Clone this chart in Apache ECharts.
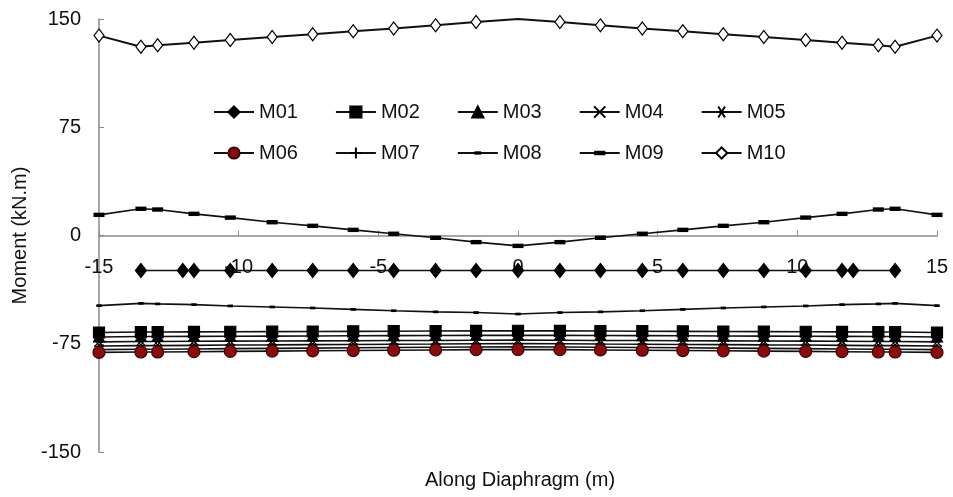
<!DOCTYPE html>
<html>
<head>
<meta charset="utf-8">
<script src="https://cdn.jsdelivr.net/npm/echarts@6/dist/echarts.min.js"></script>
<style>
  html, body { margin: 0; padding: 0; background: #fff; }
  #chart { width: 953px; height: 497px; }
</style>
</head>
<body>
<div id="chart"></div>
<script>
// x positions along the diaphragm (m)
const xMain = [-15, -13.5, -12.9, -11.6, -10.3, -8.8, -7.35, -5.9, -4.45, -2.95, -1.5, 0,
  1.5, 2.95, 4.45, 5.9, 7.35, 8.8, 10.3, 11.6, 12.9, 13.5, 15];
const xM01 = [-13.5, -12, -11.6, -10.3, -8.8, -7.35, -5.9, -4.45, -2.95, -1.5, 0,
  1.5, 2.95, 4.45, 5.9, 7.35, 8.8, 10.3, 11.6, 12, 13.5];

// moments (kN.m)
const m01 = [-24.3, -24.3, -24.3, -24.3, -24.3, -24.3, -24.3, -24.3, -24.3, -24.3, -24.3,
  -24.3, -24.3, -24.3, -24.3, -24.3, -24.3, -24.3, -24.3, -24.3, -24.3];
const m02 = [-67.2, -66.9, -66.9, -66.8, -66.7, -66.6, -66.5, -66.4, -66.3, -66.2, -66.1, -66.0,
  -66.1, -66.2, -66.3, -66.4, -66.5, -66.6, -66.7, -66.8, -66.9, -66.9, -67.2];
const m03 = [-70.3, -70.0, -70.0, -69.9, -69.8, -69.7, -69.6, -69.5, -69.4, -69.3, -69.2, -69.1,
  -69.2, -69.3, -69.4, -69.5, -69.6, -69.7, -69.8, -69.9, -70.0, -70.0, -70.3];
const m04 = [-73.7, -73.4, -73.4, -73.3, -73.2, -73.1, -73.0, -72.9, -72.8, -72.7, -72.6, -72.5,
  -72.6, -72.7, -72.8, -72.9, -73.0, -73.1, -73.2, -73.3, -73.4, -73.4, -73.7];
const m05 = [-76.6, -76.3, -76.3, -76.1, -75.9, -75.8, -75.6, -75.5, -75.3, -75.2, -75.0, -74.9,
  -75.0, -75.2, -75.3, -75.5, -75.6, -75.8, -75.9, -76.1, -76.3, -76.3, -76.6];
const m06 = [-81.0, -80.7, -80.7, -80.5, -80.3, -80.1, -79.9, -79.7, -79.5, -79.3, -79.1, -79.0,
  -79.1, -79.3, -79.5, -79.7, -79.9, -80.1, -80.3, -80.5, -80.7, -80.7, -81.0];
const m07 = [-79.1, -78.8, -78.8, -78.6, -78.4, -78.2, -78.0, -77.8, -77.6, -77.4, -77.2, -77.1,
  -77.2, -77.4, -77.6, -77.8, -78.0, -78.2, -78.4, -78.6, -78.8, -78.8, -79.1];
const m08 = [-48.6, -47.0, -47.4, -47.9, -48.8, -49.5, -50.2, -51.2, -52.1, -52.9, -53.4, -54.4,
  -53.4, -52.9, -52.1, -51.2, -50.2, -49.5, -48.8, -47.9, -47.4, -47.0, -48.6];
const m09 = [14.3, 18.5, 18.0, 15.0, 12.4, 9.2, 6.7, 3.9, 1.2, -1.6, -4.6, -7.2,
  -4.6, -1.6, 1.2, 3.9, 6.7, 9.2, 12.4, 15.0, 18.0, 18.5, 14.3];
const m10 = [138.5, 130.8, 131.8, 133.6, 135.5, 137.5, 139.4, 141.5, 143.4, 145.6, 147.9, 150.0,
  147.9, 145.6, 143.4, 141.5, 139.4, 137.5, 135.5, 133.6, 131.8, 130.8, 138.5];
// M10 has no marker drawn at mid span
const m10NoMarkerX = [0];

const legendRow1 = ['M01', 'M02', 'M03', 'M04', 'M05'];
const legendRow2 = ['M06', 'M07', 'M08', 'M09', 'M10'];

const FONT = 'Liberation Sans, Arial, sans-serif';
const W = 953, H = 497;
const GRID = { left: 99, right: 16, top: 19, bottom: 45 };
const Y_MIN = -150, Y_MAX = 150;
// x axis sits on y = 0, labels follow it
const zeroOffset = -(H - GRID.top - GRID.bottom) * (0 - Y_MIN) / (Y_MAX - Y_MIN);

// open-stroke marker shapes; the zero-length corner strokes pin the box to 10x10
const crossPath = 'path://M0,0L10,10M10,0L0,10';
const starPath = 'path://M0,5L10,5M2,1L8,9M8,1L2,9';
const plusPath = 'path://M5,0L5,10M0,5L10,5';
const dotDash = 'path://M0,0L0,0M10,10L10,10M2,3.5L8,3.5L8,6.5L2,6.5Z';
const wideDash = 'path://M0,0L0,0M10,10L10,10M0,3L10,3L10,7L0,7Z';

function pairs(xs, ys, skip) {
  return xs.map((x, i) => {
    if (skip && skip.indexOf(x) >= 0) return { value: [x, ys[i]], symbol: 'none' };
    return [x, ys[i]];
  });
}

function line(name, xs, ys, sym, size, fill, border, extra) {
  return Object.assign({
    name: name,
    type: 'line',
    data: pairs(xs, ys),
    symbol: sym,
    symbolSize: size,
    showAllSymbol: true,
    lineStyle: { color: '#111', width: 1.6 },
    itemStyle: { color: fill, borderColor: border, borderWidth: 1.2 },
    emphasis: { disabled: true }
  }, extra || {});
}

const series = [
  line('M01', xM01, m01, 'diamond', [11, 14], '#000', '#000'),
  line('M03', xMain, m03, 'triangle', [11, 10], '#000', '#000'),
  line('M04', xMain, m04, crossPath, 9, 'none', '#000'),
  line('M05', xMain, m05, starPath, 10, 'none', '#000'),
  line('M07', xMain, m07, plusPath, 10, 'none', '#000'),
  line('M02', xMain, m02, 'rect', 11, '#000', '#000'),
  line('M06', xMain, m06, 'circle', 12, '#8a0c0c', '#3a0505'),
  line('M08', xMain, m08, dotDash, 9, '#000', '#000', { itemStyle: { color: '#000', borderWidth: 0 } }),
  line('M09', xMain, m09, wideDash, 11, '#000', '#000', { itemStyle: { color: '#000', borderWidth: 0 } }),
  line('M10', xMain, m10, 'diamond', [10, 13], '#fff', '#000',
    { data: pairs(xMain, m10, m10NoMarkerX), lineStyle: { color: '#111', width: 2 } })
];

const legendBase = {
  orient: 'horizontal',
  left: 208,
  itemWidth: 40,
  itemHeight: 14,
  itemGap: 37,
  selectedMode: false,
  textStyle: { fontFamily: FONT, fontSize: 20, color: '#111' }
};

const chart = echarts.init(document.getElementById('chart'), null, { renderer: 'canvas' });

chart.setOption({
  animation: false,
  backgroundColor: '#fff',
  grid: Object.assign({ containLabel: false, outerBoundsMode: 'none' }, GRID),
  legend: [
    Object.assign({}, legendBase, { top: 97, data: legendRow1 }),
    Object.assign({}, legendBase, { top: 138, data: legendRow2 })
  ],
  graphic: [{
    type: 'text',
    left: 425,
    top: 470,
    style: { text: 'Along Diaphragm (m)', font: '20px ' + FONT, fill: '#111' }
  }],
  xAxis: {
    type: 'value',
    min: -15,
    max: 15,
    interval: 5,
    offset: zeroOffset,
    axisLine: { onZero: false, lineStyle: { color: '#8a8a8a', width: 1.5 } },
    axisTick: { inside: true, length: 5, lineStyle: { color: '#8a8a8a' } },
    axisLabel: { margin: 22, fontFamily: FONT, fontSize: 20, color: '#111' },
    splitLine: { show: false }
  },
  yAxis: {
    type: 'value',
    min: Y_MIN,
    max: Y_MAX,
    interval: 75,
    axisLine: { show: true, onZero: false, lineStyle: { color: '#8a8a8a', width: 1.5 } },
    axisTick: { show: true, inside: true, length: 5, lineStyle: { color: '#8a8a8a' } },
    axisLabel: { margin: 18, fontFamily: FONT, fontSize: 20, color: '#111' },
    splitLine: { show: false },
    name: 'Moment (kN.m)',
    nameLocation: 'middle',
    nameGap: 67,
    nameTextStyle: { fontFamily: FONT, fontSize: 20, color: '#111' }
  },
  series: series
});
</script>
</body>
</html>
